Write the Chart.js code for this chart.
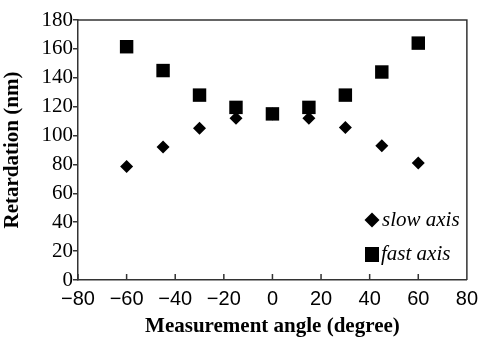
<!DOCTYPE html>
<html>
<head>
<meta charset="utf-8">
<script src="https://cdn.jsdelivr.net/npm/chart.js@4/dist/chart.umd.min.js"></script>
<style>
  html, body { margin: 0; padding: 0; background: #fff; }
  #wrap { width: 485px; height: 339px; position: relative; }
</style>
</head>
<body>
<div id="wrap"><canvas id="retardationChart"></canvas></div>
<script>
// measurement angles (degree)
const angles = [-60, -45, -30, -15, 0, 15, 30, 45, 60];
// retardation (nm)
const slowAxis = [78.5, 92, 105, 112, 115, 112, 105.5, 93, 81];
const fastAxis = [161.5, 145, 128, 119.5, 115, 119.5, 128, 144, 164];
const seriesLabels = ["slow axis", "fast axis"];

const xTicks = [-80, -60, -40, -20, 0, 20, 40, 60, 80];
const yTicks = [0, 20, 40, 60, 80, 100, 120, 140, 160, 180];

const toPoints = (ys) => angles.map((a, i) => ({x: a, y: ys[i]}));
const minus = (v) => (v < 0 ? "\u2212" + Math.abs(v) : String(v));

const AXIS_COLOR = "#333";

// frame on top/right, inward ticks on x axis, legend inside the plot
const framePlugin = {
    id: "frame",
    afterDraw(chart) {
        const ctx = chart.ctx;
        const a = chart.chartArea;
        const xs = chart.scales.x;
        ctx.save();
        ctx.strokeStyle = AXIS_COLOR;
        ctx.lineWidth = 1.5;
        ctx.beginPath();
        ctx.moveTo(a.left, a.top);
        ctx.lineTo(a.right, a.top);
        ctx.lineTo(a.right, a.bottom);
        xs.ticks.forEach(t => {
            let px = xs.getPixelForValue(t.value);
            ctx.moveTo(px, a.bottom);
            ctx.lineTo(px, a.bottom - 6);
        });
        ctx.stroke();

        // legend
        ctx.fillStyle = "#000";
        ctx.font = "italic 21px 'Liberation Serif', 'Times New Roman', serif";
        ctx.textBaseline = "middle";
        ctx.textAlign = "left";
        let lx = 372, ly1 = 220, ly2 = 254;
        ctx.beginPath();
        ctx.moveTo(lx - 7.5, ly1);
        ctx.lineTo(lx, ly1 - 7.5);
        ctx.lineTo(lx + 7.5, ly1);
        ctx.lineTo(lx, ly1 + 7.5);
        ctx.closePath();
        ctx.fill();
        ctx.fillText(seriesLabels[0], lx + 10, ly1);
        ctx.fillRect(lx - 7, ly2 - 7, 14, 15);
        ctx.fillText(seriesLabels[1], lx + 9, ly2);
        ctx.restore();
    }
};

const renderChart = function(canvasId) {
    let ctx = document.getElementById(canvasId).getContext("2d");

    let data = {
        datasets: [{
            label: seriesLabels[0],
            data: toPoints(slowAxis),
            pointStyle: "rectRot",
            pointRadius: 6.5,
            pointHoverRadius: 6.5,
            backgroundColor: "#000",
            borderColor: "#000",
            borderWidth: 0,
            showLine: false,
            order: 1
        }, {
            label: seriesLabels[1],
            data: toPoints(fastAxis),
            pointStyle: "rect",
            pointRadius: 9.5,
            pointHoverRadius: 9.5,
            backgroundColor: "#000",
            borderColor: "#000",
            borderWidth: 0,
            showLine: false,
            order: 0
        }]
    };

    let options = {
        responsive: true,
        maintainAspectRatio: false,
        animation: false,
        layout: {
            padding: {top: 20, right: 12, left: 0, bottom: 0}
        },
        plugins: {
            legend: {display: false},
            tooltip: {enabled: false}
        },
        scales: {
            x: {
                type: "linear",
                min: -80,
                max: 80,
                afterBuildTicks: (scale) => { scale.ticks = xTicks.map(v => ({value: v})); },
                afterFit: (scale) => { scale.height = 59; },
                grid: {display: true, drawOnChartArea: false, drawTicks: false},
                border: {display: true, color: AXIS_COLOR, width: 1.5},
                ticks: {
                    color: "#000",
                    padding: 7,
                    maxRotation: 0,
                    font: {family: "'Liberation Sans', Arial, sans-serif", size: 20},
                    callback: (v) => minus(v)
                },
                title: {
                    display: true,
                    text: "Measurement angle (degree)",
                    color: "#000",
                    padding: {top: 4, bottom: 0},
                    font: {family: "'Liberation Serif', 'Times New Roman', serif", size: 21, weight: "bold"}
                }
            },
            y: {
                type: "linear",
                min: 0,
                max: 180,
                afterBuildTicks: (scale) => { scale.ticks = yTicks.map(v => ({value: v})); },
                afterFit: (scale) => { scale.width = 78; },
                grid: {display: true, drawOnChartArea: false, drawTicks: true, tickLength: 5, color: AXIS_COLOR, lineWidth: 1.5},
                border: {display: true, color: AXIS_COLOR, width: 1.5},
                ticks: {
                    color: "#000",
                    padding: 0,
                    font: {family: "'Liberation Serif', 'Times New Roman', serif", size: 21}
                },
                title: {
                    display: true,
                    text: "Retardation (nm)",
                    color: "#000",
                    padding: {top: 0, bottom: 0},
                    font: {family: "'Liberation Serif', 'Times New Roman', serif", size: 21, weight: "bold"}
                }
            }
        }
    };

    return new Chart(ctx, {
        type: "scatter",
        data: data,
        options: options,
        plugins: [framePlugin]
    });
};

renderChart("retardationChart");
</script>
</body>
</html>
